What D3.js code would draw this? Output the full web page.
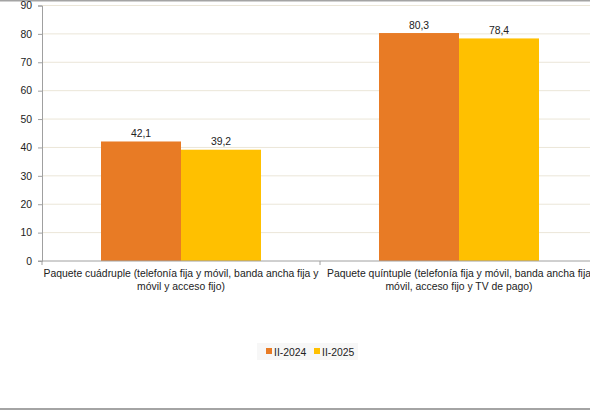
<!DOCTYPE html>
<html><head><meta charset="utf-8">
<script src="https://cdn.jsdelivr.net/npm/d3@7"></script>
<style>body{margin:0;background:#fff;overflow:hidden}svg{display:block}</style>
</head><body>
<svg id="c" width="590" height="410"></svg>
<script>
const categories = [
  ["Paquete cuádruple (telefonía fija y móvil, banda ancha fija y", "móvil y acceso fijo)"],
  ["Paquete quíntuple (telefonía fija y móvil, banda ancha fija", "móvil, acceso fijo y TV de pago)"]
];
const seriesNames = ["II-2024", "II-2025"];
const values2024 = [42.1, 80.3];
const values2025 = [39.2, 78.4];
const yTicks = [0, 10, 20, 30, 40, 50, 60, 70, 80, 90];
const colors = ["#E87B25", "#FFC000"];

(function () {
const svg = d3.select("#c");
const font = "'Liberation Sans', Arial, sans-serif";
const fs = 10.4;
const pLeft = 42, pRight = 598, pTop = 5.5, pBottom = 261;

// borders
svg.append("rect").attr("x",0).attr("y",0).attr("width",590).attr("height",1.5).attr("fill","#a4a4a4");
svg.append("rect").attr("x",0).attr("y",408).attr("width",590).attr("height",2).attr("fill","#a4a4a4");

const y = d3.scaleLinear().domain([0, 90]).range([pBottom, pTop]);
const x0 = d3.scaleBand().domain(d3.range(categories.length)).range([pLeft, pRight]).paddingInner(0).paddingOuter(0);
const x1 = d3.scaleBand().domain(d3.range(seriesNames.length)).range([0, x0.bandwidth()]).paddingOuter(0.7375);

// gridlines
svg.append("g").selectAll("line").data(yTicks.filter(d => d > 0)).join("line")
  .attr("x1", pLeft).attr("x2", 590).attr("y1", d => y(d)).attr("y2", d => y(d))
  .attr("stroke", "#ebe6d8").attr("stroke-width", 1);

// bars
const data = [values2024, values2025];
const g = svg.append("g");
categories.forEach((c, i) => {
  data.forEach((vals, s) => {
    g.append("rect")
      .attr("x", x0(i) + x1(s)).attr("width", x1.bandwidth())
      .attr("y", y(vals[i])).attr("height", pBottom - y(vals[i]))
      .attr("fill", colors[s]);
    g.append("text")
      .attr("x", x0(i) + x1(s) + x1.bandwidth() / 2).attr("y", y(vals[i]) - 4.5)
      .attr("text-anchor", "middle").attr("font-family", font).attr("font-size", fs).attr("fill", "#222")
      .text(d3.format(".1f")(vals[i]).replace(".", ","));
  });
});

// y axis
const yAxis = d3.axisLeft(y).tickValues(yTicks).tickSize(4).tickPadding(6);
const ya = svg.append("g").attr("transform", `translate(${pLeft},0)`).call(yAxis);
ya.select(".domain").attr("stroke", "#a0a0a0");
ya.selectAll(".tick line").attr("stroke", "#a0a0a0");
ya.selectAll("text").attr("font-family", font).attr("font-size", fs).attr("fill", "#222");

// x axis
const xa = svg.append("g").attr("transform", `translate(0,${pBottom})`);
xa.append("line").attr("x1", pLeft - 4).attr("x2", 590).attr("y1", 0).attr("y2", 0).attr("stroke", "#a0a0a0");
d3.range(categories.length + 1).forEach(i => {
  const xx = i < categories.length ? x0(i) : pRight;
  xa.append("line").attr("x1", xx).attr("x2", xx).attr("y1", 0).attr("y2", 4).attr("stroke", "#a0a0a0");
});
categories.forEach((c, i) => {
  const t = xa.append("text").attr("text-anchor", "middle").attr("font-family", font).attr("font-size", fs).attr("fill", "#222");
  c.forEach((line, k) => {
    t.append("tspan").attr("x", x0(i) + x0.bandwidth() / 2).attr("y", 16 + k * 13).text(line);
  });
});

// legend
const lg = svg.append("g");
lg.append("rect").attr("x", 257).attr("y", 343).attr("width", 101).attr("height", 17).attr("fill", "#f7f7f7");
const lx = [266, 314];
seriesNames.forEach((n, s) => {
  lg.append("rect").attr("x", lx[s]).attr("y", 348).attr("width", 6).attr("height", 6).attr("fill", colors[s]);
  lg.append("text").attr("x", lx[s] + 8).attr("y", 355.5).attr("font-family", font).attr("font-size", fs).attr("fill", "#222").text(n);
});
})();
</script>
</body></html>
